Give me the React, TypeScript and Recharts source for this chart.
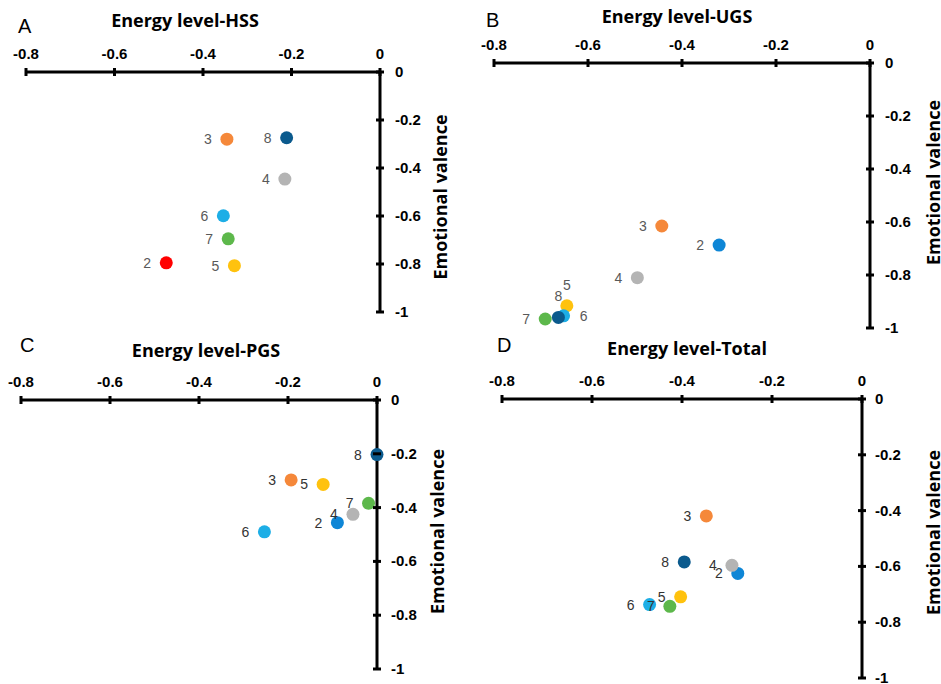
import React from 'react'
import { ScatterChart, Scatter, XAxis, YAxis } from 'recharts'

// sample items shown as numbered points
const items = ['2', '3', '4', '5', '6', '7', '8']

const energyTicks = [-0.8, -0.6, -0.4, -0.2, 0]
const valenceTicks = [0, -0.2, -0.4, -0.6, -0.8, -1]

// values, in the order of `items`
const hssEnergy = [-0.483, -0.346, -0.215, -0.329, -0.354, -0.343, -0.211]
const hssValence = [-0.795, -0.28, -0.446, -0.807, -0.599, -0.695, -0.274]

const ugsEnergy = [-0.321, -0.443, -0.495, -0.645, -0.652, -0.691, -0.663]
const ugsValence = [-0.687, -0.615, -0.81, -0.916, -0.954, -0.966, -0.96]

const pgsEnergy = [-0.089, -0.193, -0.054, -0.121, -0.253, -0.019, 0]
const pgsValence = [-0.456, -0.297, -0.425, -0.314, -0.49, -0.384, -0.203]

const totalEnergy = [-0.276, -0.346, -0.289, -0.403, -0.472, -0.427, -0.395]
const totalValence = [-0.625, -0.419, -0.596, -0.709, -0.737, -0.743, -0.584]

const itemColors = ['#0E86D6', '#F5883A', '#B4B4B4', '#FFC20E', '#1DAEE6', '#5DB84B', '#0B5A8D']
const hssColors = ['#FF0000', ...itemColors.slice(1)]

type Placement = 'left' | 'top' | 'right'

interface PanelConfig {
  letter: string
  title: string
  energy: number[]
  valence: number[]
  colors: string[]
  labelColor: string
  placement: Record<string, Placement>
  plot: { left: number; top: number; width: number; height: number }
  titleDx: number
  titleDy: number
  letterDx: number
  letterDy: number
  yLabelDx: number
  yLabelDy: number
  yTickDx: number
}

const panels: PanelConfig[] = [
  {
    letter: 'A', title: 'Energy level-HSS', energy: hssEnergy, valence: hssValence,
    colors: hssColors, labelColor: '#595959', placement: {},
    plot: { left: 26, top: 72, width: 354, height: 240 },
    titleDx: -18, titleDy: -45, letterDx: -8, letterDy: -39, yLabelDx: 60, yLabelDy: 5, yTickDx: 15,
  },
  {
    letter: 'B', title: 'Energy level-UGS', energy: ugsEnergy, valence: ugsValence,
    colors: itemColors, labelColor: '#595959', placement: { '5': 'top', '8': 'top', '6': 'right' },
    plot: { left: 494, top: 63, width: 376, height: 265 },
    titleDx: -5, titleDy: -40, letterDx: -8, letterDy: -36, yLabelDx: 63, yLabelDy: -13, yTickDx: 15,
  },
  {
    letter: 'C', title: 'Energy level-PGS', energy: pgsEnergy, valence: pgsValence,
    colors: itemColors, labelColor: '#333333', placement: {},
    plot: { left: 21, top: 400, width: 356, height: 269 },
    titleDx: 7, titleDy: -43, letterDx: -1, letterDy: -48, yLabelDx: 60, yLabelDy: -3, yTickDx: 14,
  },
  {
    letter: 'D', title: 'Energy level-Total', energy: totalEnergy, valence: totalValence,
    colors: itemColors, labelColor: '#333333', placement: {},
    plot: { left: 502, top: 399, width: 360, height: 279 },
    titleDx: 5, titleDy: -44, letterDx: -5, letterDy: -47, yLabelDx: 71, yLabelDy: -6, yTickDx: 13,
  },
]

const margin = { top: 42, right: 30, bottom: 20, left: 20 }
const X_AXIS_H = 30
const Y_AXIS_W = 60
const PLOT_X = margin.left
const PLOT_Y = margin.top + X_AXIS_H

const axisStyle = { stroke: '#000', strokeWidth: 3 }
const tickFont = { fontFamily: '"Liberation Sans", Arial, sans-serif', fontSize: 15, fontWeight: 700, fill: '#000' }
const titleFont = { fontFamily: '"Open Sans", sans-serif', fontSize: 18, fontWeight: 700, fill: '#000' }

const EnergyTick = (props: any) => {
  const { x, y, payload } = props
  return (
    <g>
      <line x1={x} y1={y - 4} x2={x} y2={y + 4} stroke="#000" strokeWidth={3} />
      <text x={x} y={y - 13} textAnchor="middle" style={tickFont}>
        {payload.value}
      </text>
    </g>
  )
}

const makeValenceTick = (dx: number) => (props: any) => {
  const { x, y, payload } = props
  return (
    <g>
      <line x1={x - 4} y1={y} x2={x + 4} y2={y} stroke="#000" strokeWidth={3} />
      <text x={x + dx} y={y + 5} textAnchor="start" style={tickFont}>
        {payload.value}
      </text>
    </g>
  )
}

const makeDot = (color: string, labelColor: string, placement: Record<string, Placement>) => (props: any) => {
  const { cx, cy, payload } = props
  const where = placement[payload.name] || 'left'
  let tx = cx - 19
  let ty = cy + 5
  if (where === 'top') {
    tx = cx
    ty = cy - 16
  } else if (where === 'right') {
    tx = cx + 20
  }
  return (
    <g>
      <circle cx={cx} cy={cy} r={6.5} fill={color} />
      <text
        x={tx}
        y={ty}
        textAnchor="middle"
        style={{ fontFamily: '"Liberation Sans", Arial, sans-serif', fontSize: 14, fill: labelColor }}
      >
        {payload.name}
      </text>
    </g>
  )
}

function Panel({ cfg }: { cfg: PanelConfig }) {
  const { plot } = cfg
  const width = plot.width + margin.left + Y_AXIS_W + margin.right
  const height = plot.height + PLOT_Y + margin.bottom
  const plotRight = PLOT_X + plot.width

  const title = () => (
    <g>
      <text x={PLOT_X - 0 + cfg.letterDx} y={PLOT_Y + cfg.letterDy}
        style={{ fontFamily: '"Liberation Sans", Arial, sans-serif', fontSize: 20, fill: '#000' }}>
        {cfg.letter}
      </text>
      <text x={PLOT_X + plot.width / 2 + cfg.titleDx} y={PLOT_Y + cfg.titleDy} textAnchor="middle" style={titleFont}>
        {cfg.title}
      </text>
    </g>
  )

  const yLabel = () => {
    const cx = plotRight + cfg.yLabelDx
    const cy = PLOT_Y + plot.height / 2 + cfg.yLabelDy
    return (
      <text x={cx} y={cy} transform={`rotate(-90 ${cx} ${cy})`} textAnchor="middle" dominantBaseline="central" style={titleFont}>
        Emotional valence
      </text>
    )
  }

  return (
    <div style={{ position: 'absolute', left: plot.left - PLOT_X, top: plot.top - PLOT_Y }}>
      <ScatterChart width={width} height={height} margin={margin}>
        <XAxis
          type="number"
          dataKey="x"
          orientation="top"
          domain={[-0.8, 0]}
          ticks={energyTicks}
          interval={0}
          height={X_AXIS_H}
          tickSize={0}
          tickMargin={0}
          tickLine={false}
          axisLine={axisStyle}
          tick={EnergyTick}
          label={{ content: title }}
        />
        <YAxis
          type="number"
          dataKey="y"
          orientation="right"
          domain={[-1, 0]}
          ticks={valenceTicks}
          interval={0}
          width={Y_AXIS_W}
          tickSize={0}
          tickMargin={0}
          tickLine={false}
          axisLine={axisStyle}
          tick={makeValenceTick(cfg.yTickDx)}
          label={{ content: yLabel }}
        />
        {items.map((name, i) => (
          <Scatter
            key={name}
            name={name}
            data={[{ x: cfg.energy[i], y: cfg.valence[i], name }]}
            shape={makeDot(cfg.colors[i], cfg.labelColor, cfg.placement)}
            isAnimationActive={false}
          />
        ))}
      </ScatterChart>
    </div>
  )
}

export default function App() {
  return (
    <div style={{ position: 'absolute', left: 0, top: 0, width: 941, height: 684, overflow: 'hidden', background: '#fff' }}>
      {panels.map((p) => (
        <Panel key={p.letter} cfg={p} />
      ))}
    </div>
  )
}
